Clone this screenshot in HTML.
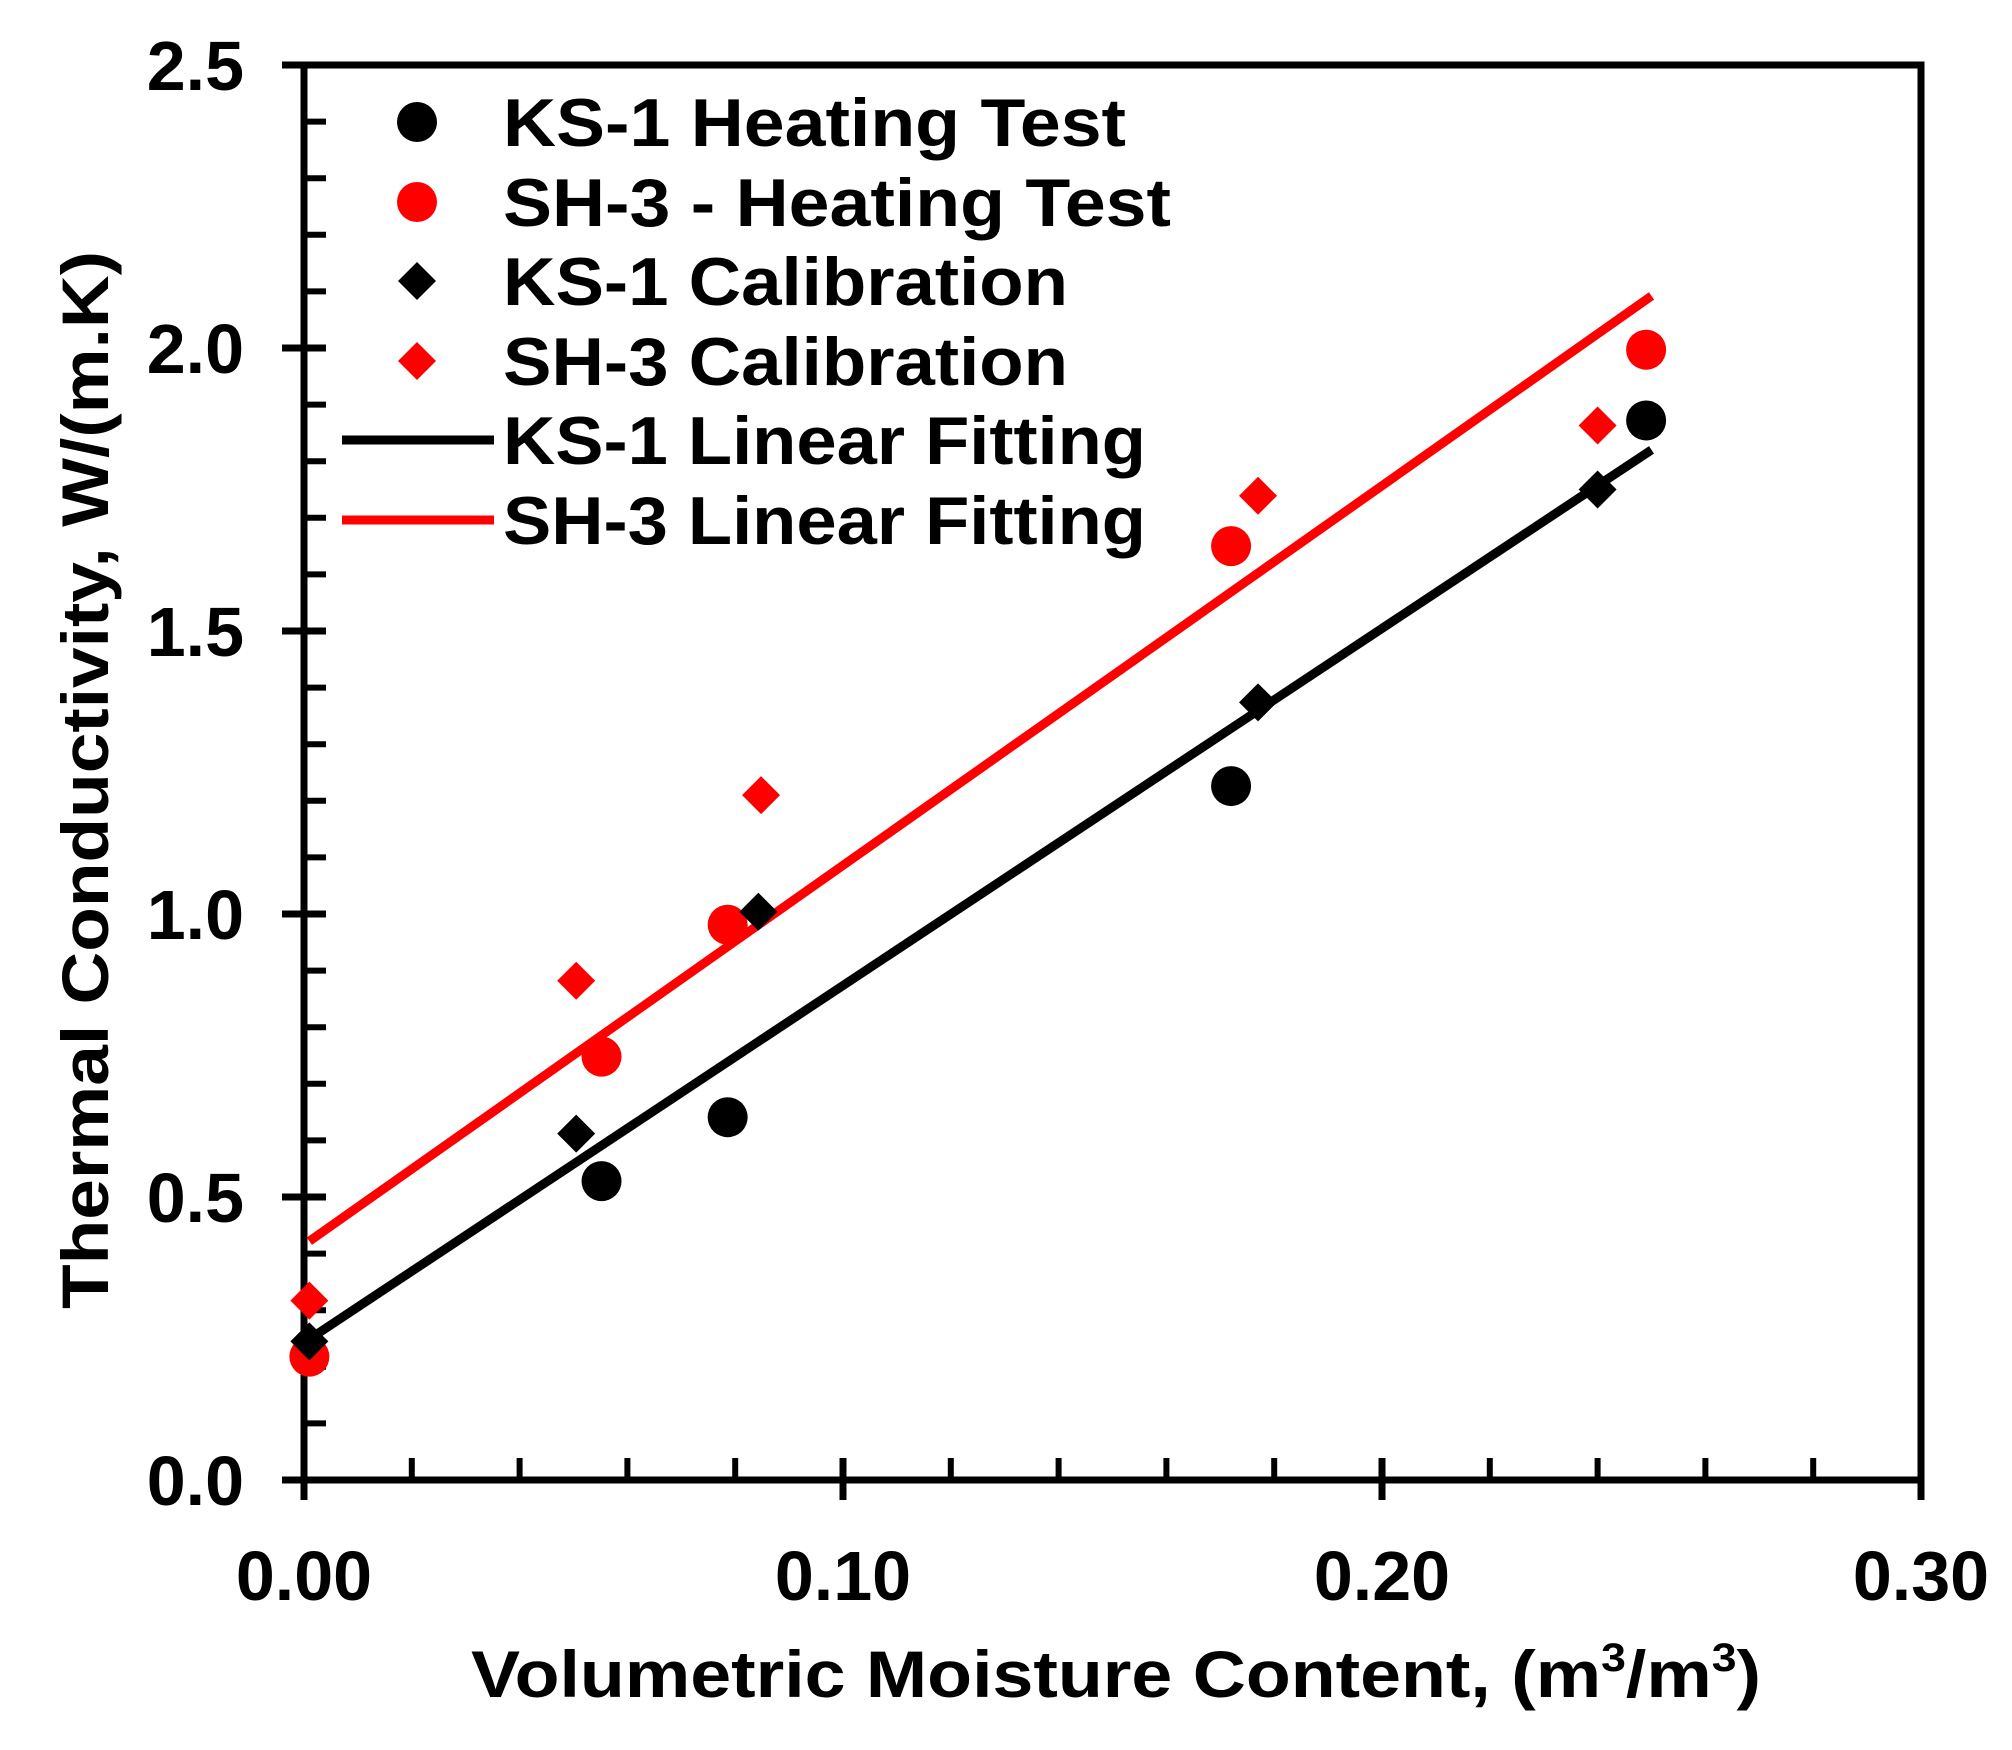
<!DOCTYPE html>
<html><head><meta charset="utf-8"><style>
html,body{margin:0;padding:0;background:#fff}
svg{display:block;font-family:"Liberation Sans",Arial,sans-serif;font-weight:bold}
</style></head><body>
<svg id="chart" width="2012" height="1750" viewBox="0 0 2012 1750">
<g id="axes"></g>
<g id="marks"></g>
<g id="legend"></g>
<text x="1116" y="1697" font-size="66" text-anchor="middle" textLength="1290" lengthAdjust="spacingAndGlyphs">Volumetric Moisture Content, (m<tspan font-size="40" dy="-26">3</tspan><tspan dy="26">/m</tspan><tspan font-size="40" dy="-26">3</tspan><tspan dy="26">)</tspan></text>
<text transform="translate(108,780) rotate(-90)" font-size="66" text-anchor="middle" textLength="1058" lengthAdjust="spacingAndGlyphs">Thermal Conductivity,  W/(m.K)</text>
</svg>
<script>
const xTickLabels=["0.00","0.10","0.20","0.30"];
const xTickValues=[0,0.1,0.2,0.3];
const yTickLabels=["0.0","0.5","1.0","1.5","2.0","2.5"];
const yTickValues=[0,0.5,1,1.5,2,2.5];
const ks1HeatX=[0.0552,0.0786,0.172,0.249];
const ks1HeatY=[0.528,0.641,1.226,1.872];
const sh3HeatX=[0.001,0.0552,0.0786,0.172,0.249];
const sh3HeatY=[0.218,0.748,0.981,1.650,1.997];
const ks1CalX=[0.001,0.0505,0.0843,0.177,0.240];
const ks1CalY=[0.245,0.612,1.004,1.374,1.750];
const sh3CalX=[0.001,0.0505,0.0848,0.177,0.240];
const sh3CalY=[0.317,0.882,1.21,1.739,1.863];
const ks1FitX=[0.001,0.25];
const ks1FitY=[0.249,1.82];
const sh3FitX=[0.001,0.25];
const sh3FitY=[0.422,2.092];

const L=304,R=1921,T=65,B=1480;
const sx=v=>L+(v-0)/(0.3)*(R-L);
const sy=v=>B-(v/2.5)*(B-T);
const NS="http://www.w3.org/2000/svg";
function mk(tag,parent,attrs){const e=document.createElementNS(NS,tag);for(const k in attrs)e.setAttribute(k,attrs[k]);parent.appendChild(e);return e;}
const axes=document.getElementById('axes'),marks=document.getElementById('marks'),leg=document.getElementById('legend');

let fr=mk('rect',axes,{x:L,y:T,width:R-L,height:B-T,fill:'none',stroke:'#000','stroke-width':7});


for(let i=0;i<=15;i++){const v=i*0.02,x=sx(v);const major=i%5===0;
 let t=mk('line',axes,{x1:x,x2:x,y1:B,y2:major?B+20:B-22,stroke:'#000','stroke-width':major?7:6});
 if(major)t.setAttribute('y1',B-22);
 
 }
for(let i=0;i<=25;i++){const v=i*0.1,y=sy(v);const major=i%5===0;
 let t=mk('line',axes,{x1:major?L-22:L,x2:L+22,y1:y,y2:y,stroke:'#000','stroke-width':major?7:6});
 
 }
xTickValues.forEach((v,i)=>{let t=mk('text',axes,{x:sx(v),y:1600,'font-size':70,'text-anchor':'middle'});t.textContent=xTickLabels[i];
 
 });
yTickValues.forEach((v,i)=>{let t=mk('text',axes,{x:244,y:sy(v)+25,'font-size':70,'text-anchor':'end'});t.textContent=yTickLabels[i];
 
 });

function line(xs,ys,col,name){let p=mk('line',marks,{x1:sx(xs[0]),y1:sy(ys[0]),x2:sx(xs[1]),y2:sy(ys[1]),stroke:col,'stroke-width':9});
 
 }
function circles(xs,ys,col,name){xs.forEach((x,i)=>{let c=mk('circle',marks,{cx:sx(x),cy:sy(ys[i]),r:20,fill:col});
 
 });}
function diamonds(xs,ys,col,name){xs.forEach((x,i)=>{const cx=sx(x),cy=sy(ys[i]),s=19;let d=mk('polygon',marks,{points:`${cx},${cy-s} ${cx+s},${cy} ${cx},${cy+s} ${cx-s},${cy}`,fill:col});
 
 });}
line(sh3FitX,sh3FitY,'#f00','sh3-fit-line');
line(ks1FitX,ks1FitY,'#000','ks1-fit-line');
diamonds(sh3CalX,sh3CalY,'#f00','sh3-calibration-point');
circles(sh3HeatX,sh3HeatY,'#f00','sh3-heating-point');
circles(ks1HeatX,ks1HeatY,'#000','ks1-heating-point');
diamonds(ks1CalX,ks1CalY,'#000','ks1-calibration-point');

const legLabels=["KS-1 Heating Test","SH-3 - Heating Test","KS-1 Calibration","SH-3 Calibration","KS-1 Linear Fitting","SH-3 Linear Fitting"];
const legWidths=[623,668,565,565,643,643];
const legRows=[122,202,281,361,440,520];
legLabels.forEach((lab,i)=>{const y=legRows[i],col=i%2===0?'#000':'#f00';
 let g=mk('g',leg,{});
 
 
 if(i<2){mk('circle',g,{cx:417,cy:y,r:20,fill:col});}
 else if(i<4){mk('polygon',g,{points:`417,${y-19} 436,${y} 417,${y+19} 398,${y}`,fill:col});}
 else{mk('line',g,{x1:342,x2:494,y1:y,y2:y,stroke:col,'stroke-width':9});}
 let t=mk('text',g,{x:503,y:y+24,'font-size':68,textLength:legWidths[i],lengthAdjust:'spacingAndGlyphs'});t.textContent=lab;});
</script>
</body></html>
